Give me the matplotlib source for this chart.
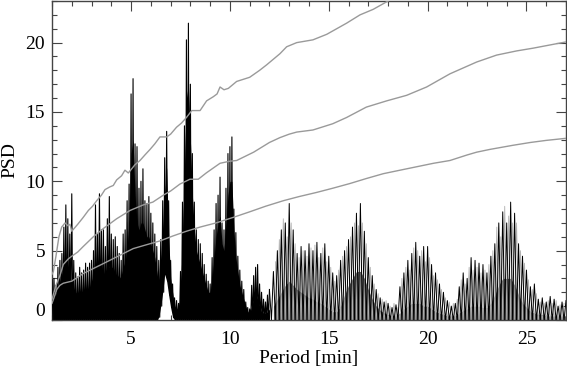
import numpy as np
import matplotlib
matplotlib.use("Agg")
import matplotlib.pyplot as plt
from matplotlib.ticker import MultipleLocator

plt.rcParams['font.family'] = ['Liberation Serif', 'DejaVu Serif']

# ---------------- data ----------------
# fine grid, 1.0 .. 12.0 min (step 0.1)
period_left = np.round(np.arange(1.0, 12.0001, 0.1), 2)
psd_peak_left = [
    2.9, 3.0, 2.5, 3.8, 4.3, 4.8, 6.7, 8.3, 7.3, 6.2,
    9.1, 4.3, 3.4, 3.1, 3.8, 3.4, 3.6, 4.1, 3.8, 4.1,
    4.3, 5.0, 8.3, 6.2, 9.1, 6.5, 6.5, 5.3, 7.3, 8.9,
    6.2, 5.8, 6.0, 5.3, 4.8, 4.3, 6.2, 6.5, 8.6, 9.8,
    16.3, 17.4, 12.7, 12.5, 9.5, 10.0, 10.9, 8.6, 8.4, 8.9,
    7.7, 7.0, 6.2, 5.3, 4.3, 5.8, 8.6, 11.7, 13.6, 8.6,
    4.3, 2.6, 1.6, 1.4, 1.2, 3.5, 8.5, 14.0, 20.2, 21.4,
    17.0, 12.0, 8.5, 6.5, 5.8, 5.5, 4.8, 4.0, 3.3, 2.8,
    2.6, 4.5, 6.5, 8.4, 9.0, 10.3, 7.0, 6.5, 9.5, 12.0,
    12.5, 13.2, 8.0, 6.3, 4.6, 3.6, 2.8, 2.2, 1.3, 0.9,
    0.8, 2.5, 3.2, 3.8, 4.0, 2.6, 2.0, 1.5, 1.3, 1.8, 2.2,
]
psd_core_left = [
    1.2, 1.8, 1.8, 2.2, 2.8, 3.2, 3.8, 3.8, 3.2, 3.0,
    2.8, 2.2, 2.0, 1.8, 1.8, 2.0, 2.2, 2.0, 2.2, 2.2,
    2.8, 3.2, 3.8, 4.0, 3.8, 3.3, 3.3, 3.5, 3.8, 3.8,
    3.8, 3.8, 3.3, 3.3, 3.0, 3.2, 3.8, 4.2, 5.2, 7.2,
    12.0, 13.0, 9.0, 7.0, 6.5, 7.0, 7.0, 6.5, 6.0, 6.0,
    5.5, 5.0, 4.5, 3.5, 2.5, 4.0, 6.0, 9.0, 11.0, 6.0,
    3.0, 2.0, 1.0, 0.8, 0.8, 2.0, 6.0, 11.0, 16.0, 17.0,
    13.0, 9.0, 6.5, 5.0, 4.5, 4.0, 3.5, 3.0, 2.5, 2.0,
    2.0, 3.0, 4.5, 6.0, 7.0, 7.5, 5.5, 5.0, 7.0, 9.0,
    10.0, 10.0, 6.5, 4.5, 3.5, 2.5, 2.0, 1.5, 1.0, 0.6,
    0.5, 1.0, 1.5, 1.8, 1.5, 1.0, 0.6, 0.5, 0.5, 0.6, 0.8,
]
psd_trough_left = [
    0, 0, 0, 0, 0, 0, 0, 0, 0, 0,
    0, 0, 0, 0, 0, 0, 0, 0, 0, 0,
    0, 0, 0, 0, 0, 0, 0, 0, 0, 0,
    0, 0, 0, 0, 0, 0, 0, 0, 0, 0,
    0, 0, 0, 0, 0, 0, 0, 0, 0, 0,
    0, 0, 0, 0, 0.2, 1.0, 2.0, 3.3, 2.8, 1.8,
    0.9, 0.2, 0, 0, 0, 0, 0, 0, 0, 0,
    0, 0, 0, 0, 0, 0, 0, 0, 0, 0,
    0, 0, 0, 0, 0, 0, 0, 0, 0, 0,
    0, 0, 0, 0, 0, 0, 0, 0, 0, 0,
    0, 0, 0, 0, 0, 0, 0, 0, 0, 0, 0,
]

# coarser grid, 12.2 .. 27.0 min (step 0.2): dark spikes
period_right = np.round(np.arange(12.2, 27.0001, 0.2), 2)
psd_peak_right = [
    3.5, 5.0, 6.5, 7.0, 8.4, 6.5, 4.8, 5.3, 5.0, 5.5,
    5.0, 5.6, 4.8, 5.5, 4.6, 3.4, 3.2, 4.3, 5.0, 5.8,
    6.7, 7.7, 8.4, 6.4, 4.5, 3.2, 2.2, 1.6, 1.3, 1.2,
    0.9, 1.1, 2.4, 3.4, 4.3, 4.8, 5.6, 4.6, 5.3, 5.3,
    4.0, 3.4, 2.6, 2.0, 1.4, 1.0, 1.2, 2.4, 3.4, 3.0,
    4.5, 4.3, 4.1, 4.0, 3.4, 4.6, 5.5, 7.0, 7.8, 7.0,
    8.5, 7.7, 5.5, 4.6, 3.6, 2.4, 2.6, 1.5, 1.6, 1.3,
    1.7, 1.5, 1.0, 1.3, 1.4,
]
# interleaved lighter spikes, 12.3 .. 26.9 min (step 0.2)
period_right_b = np.round(np.arange(12.3, 26.9001, 0.2), 2)
psd_peak_right_b = [
    4.2, 5.8, 7.3, 6.0, 7.0, 5.5, 4.5, 5.0, 4.6, 5.2,
    5.4, 4.5, 5.2, 4.2, 3.8, 2.8, 3.6, 4.6, 5.3, 6.0,
    7.0, 6.8, 7.0, 5.5, 3.8, 2.6, 1.9, 1.5, 1.4, 1.0,
    1.2, 0.9, 3.0, 3.8, 3.6, 5.2, 5.0, 5.0, 4.2, 4.5,
    3.2, 2.9, 2.2, 1.6, 1.3, 1.2, 1.5, 2.9, 2.6, 3.8,
    3.6, 3.8, 3.4, 3.6, 4.0, 5.0, 6.7, 6.0, 8.2, 7.5,
    7.0, 7.0, 5.0, 4.1, 2.9, 2.2, 1.9, 1.3, 1.2, 1.4,
    1.2, 1.4, 1.1, 1.2,
]
psd_core_right = [
    1.0, 1.5, 2.0, 2.5, 2.8, 2.5, 2.2, 2.0, 1.8, 1.6,
    1.5, 1.3, 1.2, 1.0, 0.8, 0.6, 0.6, 1.0, 1.8, 2.5,
    3.0, 3.5, 3.5, 3.0, 2.2, 1.5, 1.0, 0.7, 0.5, 0.4,
    0.3, 0.3, 0.5, 0.8, 1.0, 1.2, 1.2, 1.2, 1.0, 1.0,
    0.8, 0.6, 0.5, 0.4, 0.3, 0.3, 0.3, 0.5, 0.7, 0.8,
    1.0, 1.0, 1.0, 0.9, 0.9, 1.2, 1.8, 2.5, 3.0, 3.0,
    3.0, 2.5, 1.8, 1.2, 0.9, 0.6, 0.5, 0.4, 0.4, 0.3,
    0.3, 0.3, 0.3, 0.3, 0.3,
]

# significance level curves
sig_hi_period = [1.0, 1.07, 1.2, 1.35, 1.49, 1.66, 1.8, 1.91, 2.0, 2.3, 2.58, 2.84,
                 3.05, 3.26, 3.5, 3.68, 3.93, 4.1, 4.27, 4.52, 4.69, 4.86, 5.03, 5.2,
                 5.45, 5.7, 5.96, 6.2, 6.46, 6.8, 7.0, 7.3, 7.55, 7.8, 8.07, 8.49,
                 8.82, 9.16, 9.35, 9.5, 9.7, 9.92, 10.34, 11.0, 11.5, 11.86, 12.53,
                 12.87, 13.38, 14.2, 14.9, 15.9, 16.58, 17.25, 18.0, 18.5]
sig_hi_psd = [3.3, 3.5, 4.6, 6.0, 6.7, 7.0, 6.8, 6.9, 6.4, 6.9, 7.4, 7.9,
              8.2, 8.6, 9.0, 9.4, 9.6, 9.7, 10.1, 10.4, 10.8, 10.6, 10.9, 11.2,
              11.5, 11.9, 12.3, 12.7, 13.2, 13.2, 13.4, 13.9, 14.2, 14.6, 15.1, 15.1,
              15.8, 16.1, 16.3, 16.8, 16.6, 16.7, 17.2, 17.5, 18.0, 18.4, 19.2,
              19.7, 20.0, 20.2, 20.6, 21.4, 22.0, 22.4, 23.0, 23.4]

sig_mid_period = [1.0, 1.2, 1.4, 1.57, 1.82, 2.0, 2.3, 2.58, 3.09, 3.6, 4.27, 4.95,
                  5.62, 6.1, 6.63, 7.0, 7.47, 7.98, 8.4, 8.8, 9.5, 10.0, 10.34, 11.2,
                  12.0, 12.53, 13.0, 13.38, 14.2, 15.2, 15.9, 16.9, 17.93, 18.94,
                  19.95, 21.13, 22.48, 23.49, 24.5, 25.34, 27.0]
sig_mid_psd = [1.5, 2.5, 3.2, 4.0, 4.4, 4.6, 4.9, 5.3, 6.0, 6.6, 7.3, 7.9,
               8.3, 8.5, 9.0, 9.3, 9.8, 10.15, 10.15, 10.6, 11.3, 11.45, 11.5, 12.1,
               12.8, 13.15, 13.4, 13.55, 13.7, 14.15, 14.6, 15.35, 15.8, 16.2,
               16.8, 17.75, 18.6, 19.1, 19.4, 19.6, 20.05]

sig_lo_period = [1.0, 1.1, 1.24, 1.4, 1.57, 2.0, 2.58, 3.43, 4.27, 5.11, 5.96, 6.46,
                 7.1, 7.8, 8.49, 9.3, 10.17, 11.0, 11.8, 12.7, 13.5, 14.39, 15.2,
                 16.07, 16.9, 17.76, 18.6, 19.45, 20.3, 21.13, 22.0, 22.48, 23.15,
                 24.33, 25.2, 26.0, 27.0]
sig_lo_psd = [1.2, 1.6, 2.2, 2.5, 2.65, 2.8, 3.35, 3.95, 4.55, 5.15, 5.5, 5.7,
              6.05, 6.4, 6.7, 7.0, 7.4, 7.8, 8.2, 8.6, 8.9, 9.2, 9.5,
              9.84, 10.2, 10.55, 10.8, 11.05, 11.3, 11.5, 11.9, 12.1, 12.3,
              12.6, 12.8, 12.95, 13.1]

x_ticks = [5, 10, 15, 20, 25]
y_ticks = [0, 5, 10, 15, 20]


def zigzag(p, peak, low):
    p = np.asarray(p, float)
    peak = np.asarray(peak, float)
    low = np.asarray(low, float)
    mid = (p[:-1] + p[1:]) / 2
    xs = np.empty(2 * len(p) - 1)
    ys = np.empty(2 * len(p) - 1)
    xs[0::2] = p
    xs[1::2] = mid
    ys[0::2] = peak
    ys[1::2] = low[:-1]
    return xs, ys


# ---------------- figure ----------------
fig = plt.figure(figsize=(5.67, 3.68), dpi=100)
ax = fig.add_axes([52 / 567, 1 - 320 / 368, 514 / 567, 319 / 368])

# solid cores
ax.fill_between(period_left, psd_trough_left, psd_core_left, color='black', lw=0, zorder=2)
ax.fill_between(period_right, 0, psd_core_right, color='#5e5e5e', lw=0, zorder=2)

# spiky periodogram
xb, yb = zigzag(period_right_b, psd_peak_right_b, np.zeros(len(period_right_b)))
ax.plot(xb, yb, color='#b0b0b0', lw=0.6, zorder=2.5)
xl, yl = zigzag(period_left, psd_peak_left, psd_trough_left)
ax.plot(xl, yl, color='black', lw=0.8, zorder=3)
xr, yr = zigzag(np.concatenate([[period_left[-1]], period_right]),
                np.concatenate([[psd_peak_left[-1]], psd_peak_right]),
                np.zeros(len(period_right) + 1))
ax.plot(xr, yr, color='black', lw=0.7, zorder=3)

# significance levels
for px, py in [(sig_hi_period, sig_hi_psd), (sig_mid_period, sig_mid_psd),
               (sig_lo_period, sig_lo_psd)]:
    ax.plot(px, py, color='#9a9a9a', lw=1.0, zorder=4)

ax.set_xlim(1, 27)
ax.set_ylim(0, 23)
ax.set_xticks(x_ticks)
ax.set_yticks(y_ticks)
ax.xaxis.set_minor_locator(MultipleLocator(1))
ax.yaxis.set_minor_locator(MultipleLocator(1))
ax.tick_params(which='both', direction='in', top=True, right=True,
               color='#444444', labelsize=14)
ax.tick_params(which='major', length=7, width=0.8)
ax.tick_params(which='minor', length=3.5, width=0.8)
ax.tick_params(axis='x', pad=8)
ax.tick_params(axis='y', pad=5)
for lab in ax.get_yticklabels():
    if lab.get_text() == '0':
        lab.set_verticalalignment('bottom')
for s in ax.spines.values():
    s.set_color('#444444')
    s.set_linewidth(1.0)

ax.set_xlabel('Period [min]', fontsize=14, labelpad=1)
ax.set_ylabel('PSD', fontsize=14, labelpad=5)

fig.savefig('out.png', dpi=100)
